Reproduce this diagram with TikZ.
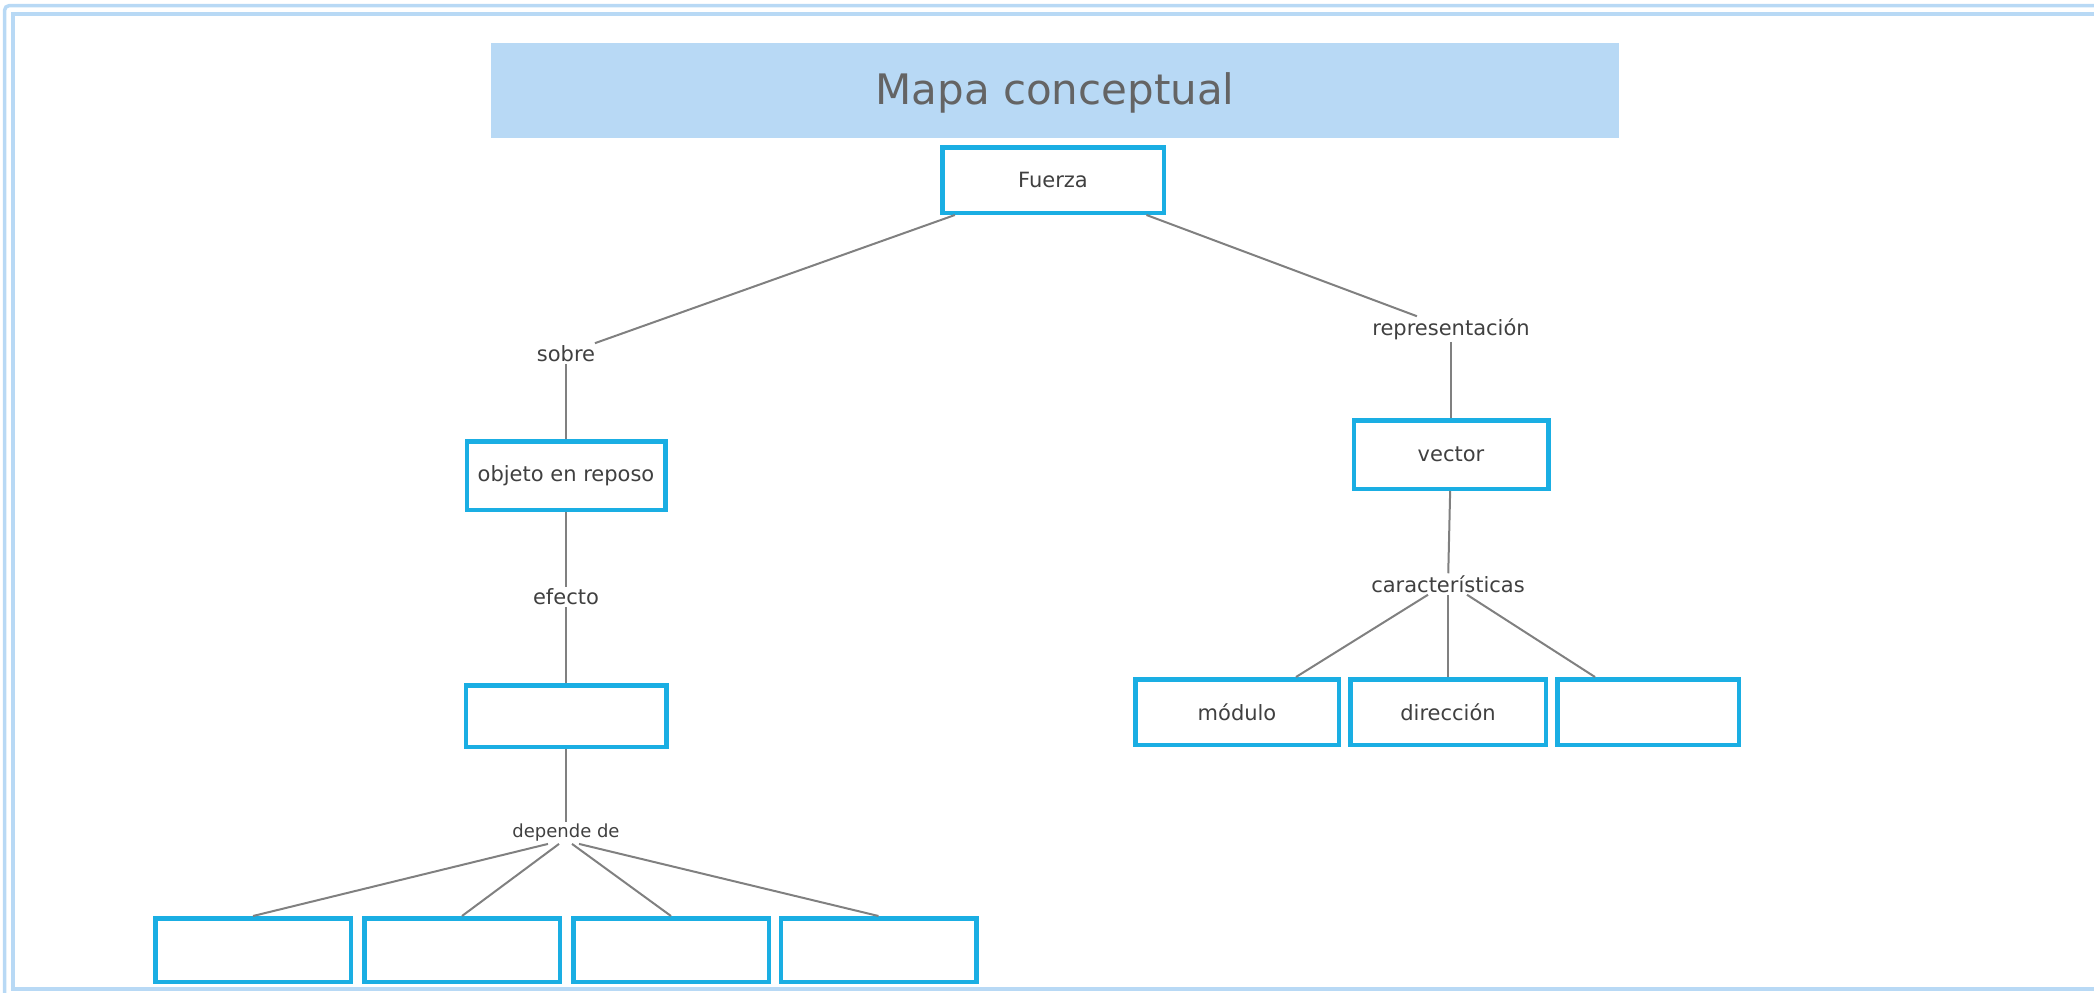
\documentclass[tikz,border=0pt]{standalone}
\usepackage{fontspec}
\setmainfont{DejaVu Sans}
\usepackage{tikz}
\definecolor{mapblue}{HTML}{B8D9F5}
\definecolor{boxcyan}{HTML}{1AAEE3}
\definecolor{linegray}{HTML}{808080}
\definecolor{textgray}{HTML}{404040}
\definecolor{titlegray}{HTML}{646464}

\begin{document}
\begin{tikzpicture}[x=1pt,y=-1pt,
    concept/.style={draw=boxcyan,line width=4.5pt,fill=white,text=textgray,
        font=\fontsize{21}{25}\selectfont,inner sep=0pt},
    link/.style={text=textgray,font=\fontsize{21}{25}\selectfont,inner sep=2pt},
    conn/.style={draw=linegray,line width=2pt}]
    \useasboundingbox (0,0) rectangle (2094,993);
    % frame
    \draw[mapblue,line width=3.5pt,rounded corners=5pt] (4.5,993) -- (4.5,5.5) -- (2094,5.5);
    \draw[mapblue,line width=3.5pt] (2094,14) -- (13,14) -- (13,989) -- (2094,989);
    % title
    \fill[mapblue] (491,43) rectangle (1619,138);
    \node[text=titlegray,font=\fontsize{42}{50}\selectfont] (title) at (1055,93) {Mapa conceptual};
    % concepts
    \node[concept,minimum width=221.5pt,minimum height=65.5pt] (fuerza) at (1053,180) {Fuerza};
    \node[link] (sobre) at (566,353.5) {sobre};
    \node[concept,minimum width=198.5pt,minimum height=68.5pt] (objeto) at (566,475.5) {objeto en reposo};
    \node[link] (efecto) at (566,597) {efecto};
    \node[concept,minimum width=200.5pt,minimum height=61.5pt] (efx) at (566,716) {};
    \node[link,font=\fontsize{18}{22}\selectfont] (dep) at (566,833) {depende de};
    \foreach \i/\x in {1/253,2/462,3/671,4/878.5}
    \node[concept,minimum width=195.5pt,minimum height=63.5pt] (d\i) at (\x,950) {};
    \node[link] (repr) at (1451,329) {representación};
    \node[concept,minimum width=194.5pt,minimum height=68.5pt] (vector) at (1451,454.5) {vector};
    \node[link] (car) at (1448,584) {características};
    \node[concept,minimum width=203.5pt,minimum height=65.5pt] (mod) at (1237,712) {módulo};
    \node[concept,minimum width=195.5pt,minimum height=65.5pt] (dir) at (1448,712) {dirección};
    \node[concept,minimum width=181.5pt,minimum height=65.5pt] (blank) at (1648,712) {};
    % connectors
    \draw[conn] (fuerza) -- (sobre);
    \draw[conn] (sobre) -- (objeto);
    \draw[conn] (objeto) -- (efecto);
    \draw[conn] (efecto) -- (efx);
    \draw[conn] (efx) -- (dep);
    \foreach \i/\s in {1/-18,2/-7,3/6,4/13}
    \draw[conn] ([xshift=\s pt]dep.south) -- (d\i.north);
    \draw[conn] (fuerza) -- (repr);
    \draw[conn] (repr) -- (vector);
    \draw[conn] (vector) -- (car);
    \draw[conn] ([xshift=-20pt]car.south) -- ([xshift=59pt]mod.north);
    \draw[conn] (car) -- (dir);
    \draw[conn] ([xshift=19pt]car.south) -- ([xshift=-53pt]blank.north);
\end{tikzpicture}
\end{document}
